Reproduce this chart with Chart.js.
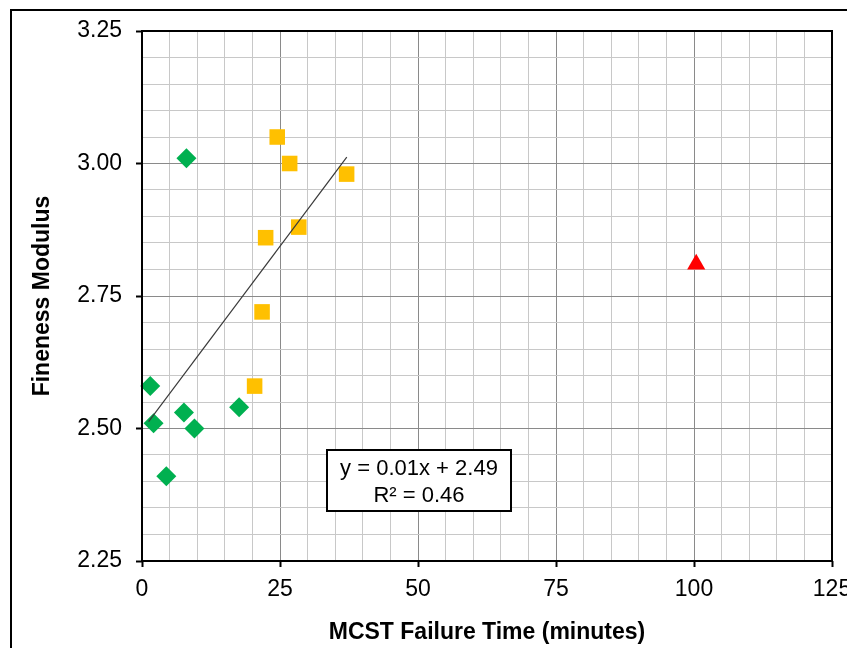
<!DOCTYPE html>
<html>
<head>
<meta charset="utf-8">
<script src="https://cdn.jsdelivr.net/npm/chart.js@4"></script>
<style>
  html, body { margin: 0; padding: 0; background: #fff; }
  #wrap { width: 847px; height: 648px; }
</style>
</head>
<body>
<div id="wrap"><canvas id="fmChart"></canvas></div>
<script>
// values
const greenX = [1.5, 2.1, 4.4, 7.6, 8.05, 9.5, 17.6];
const greenY = [2.58, 2.51, 2.41, 2.53, 3.01, 2.50, 2.54];
const yellowX = [20.4, 21.75, 22.4, 24.5, 26.75, 28.4, 37.07];
const yellowY = [2.58, 2.72, 2.86, 3.05, 3.00, 2.88, 2.98];
const redX = [100.4];
const redY = [2.81];
const trendX = [1.2, 37.1];
const trendY = [2.513, 3.012];
const eqLines = ['y = 0.01x + 2.49', 'R\u00b2 = 0.46'];

const toPts = (xs, ys) => xs.map((x, i) => ({ x: x, y: ys[i] }));
const isMajor = (v, step) => Math.abs(v / step - Math.round(v / step)) < 1e-6;
const FONT = "'Liberation Sans', Arial, sans-serif";

// outer frame, plot frame and the equation box
const framePlugin = {
  id: 'frames',
  beforeDraw(chart) {
    const ctx = chart.ctx;
    ctx.save();
    ctx.strokeStyle = '#000';
    ctx.lineWidth = 2;
    ctx.strokeRect(11, 10, 2000, 2000);
    ctx.restore();
  },
  afterDatasetsDraw(chart) {
    const { ctx, chartArea: a } = chart;
    ctx.save();
    ctx.strokeStyle = '#000';
    ctx.lineWidth = 2;
    ctx.strokeRect(a.left, a.top, a.right - a.left, a.bottom - a.top);

    const bx = 327, by = 450, bw = 184, bh = 61;
    ctx.fillStyle = '#fff';
    ctx.fillRect(bx, by, bw, bh);
    ctx.strokeRect(bx, by, bw, bh);
    ctx.fillStyle = '#000';
    ctx.font = '22px ' + FONT;
    ctx.textAlign = 'center';
    ctx.textBaseline = 'middle';
    ctx.fillText(eqLines[0], bx + bw / 2, by + 19);
    ctx.fillText(eqLines[1], bx + bw / 2, by + 46);
    ctx.restore();
  }
};

new Chart(document.getElementById('fmChart'), {
  type: 'scatter',
  data: {
    datasets: [
      {
        label: 'Trend',
        data: toPts(trendX, trendY),
        showLine: true,
        borderColor: '#3a3a3a',
        borderWidth: 1.2,
        pointRadius: 0
      },
      {
        label: 'Group A',
        data: toPts(greenX, greenY),
        pointStyle: 'rectRot',
        pointRadius: 10,
        backgroundColor: '#00B050',
        borderColor: '#00B050',
        borderWidth: 0
      },
      {
        label: 'Group B',
        data: toPts(yellowX, yellowY),
        pointStyle: 'rect',
        pointRadius: 11,
        backgroundColor: '#FFC000',
        borderColor: '#FFC000',
        borderWidth: 0
      },
      {
        label: 'Outlier',
        data: toPts(redX, redY),
        pointStyle: 'triangle',
        pointRadius: 10.5,
        backgroundColor: '#FF0000',
        borderColor: '#FF0000',
        borderWidth: 0
      }
    ]
  },
  options: {
    responsive: true,
    maintainAspectRatio: false,
    animation: false,
    clip: false,
    layout: { padding: { top: 31, right: 15, left: 0, bottom: 0 } },
    plugins: { legend: { display: false }, tooltip: { enabled: false } },
    scales: {
      x: {
        type: 'linear',
        min: 0,
        max: 125,
        afterFit: s => { s.height = 87; s.paddingLeft = 0; s.paddingRight = 0; },
        ticks: {
          stepSize: 5,
          autoSkip: false,
          maxRotation: 0,
          minRotation: 0,
          padding: 9,
          color: '#000',
          font: { family: FONT, size: 23 },
          callback: v => isMajor(v, 25) ? String(v) : ''
        },
        grid: {
          color: c => isMajor(c.tick.value, 25) ? '#8a8a8a' : '#c8c8c8',
          lineWidth: 1,
          tickLength: 6,
          tickWidth: 2,
          tickColor: c => isMajor(c.tick.value, 25) ? '#000' : 'rgba(0,0,0,0)'
        },
        border: { display: false },
        title: {
          display: true,
          text: 'MCST Failure Time (minutes)',
          color: '#000',
          font: { family: FONT, size: 23, weight: 'bold' },
          padding: { top: 0, bottom: 2 }
        }
      },
      y: {
        type: 'linear',
        min: 2.25,
        max: 3.25,
        afterFit: s => { s.width = 142; },
        ticks: {
          stepSize: 0.05,
          autoSkip: false,
          padding: 14,
          color: '#000',
          font: { family: FONT, size: 23 },
          callback: v => isMajor(v, 0.25) ? v.toFixed(2) : ''
        },
        grid: {
          color: c => isMajor(c.tick.value, 0.25) ? '#8a8a8a' : '#c8c8c8',
          lineWidth: 1,
          tickLength: 6,
          tickWidth: 2,
          tickColor: c => isMajor(c.tick.value, 0.25) ? '#000' : 'rgba(0,0,0,0)'
        },
        border: { display: false },
        title: {
          display: true,
          text: 'Fineness Modulus',
          color: '#000',
          font: { family: FONT, size: 23, weight: 'bold' },
          padding: { top: 29, bottom: 0 }
        }
      }
    }
  },
  plugins: [framePlugin]
});
</script>
</body>
</html>
